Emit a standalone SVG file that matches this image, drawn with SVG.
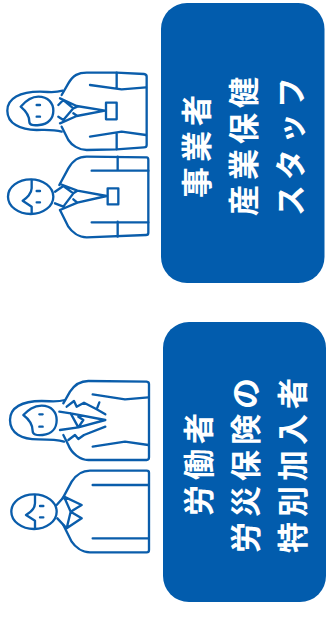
<svg xmlns="http://www.w3.org/2000/svg" width="327" height="618" viewBox="0 0 327 618">
<style>
.i{fill:none;stroke:#0a5dab;stroke-width:7;stroke-linecap:round;stroke-linejoin:round}
.b{fill:#025cad}
.t{fill:#fff;font-family:"Noto Sans CJK JP","Noto Sans CJK SC",sans-serif;font-weight:700;font-size:31px;letter-spacing:5px}
</style>
<g id="staff-icons" class="i" transform="translate(0,60) scale(.33333)">
<g id="woman-staff">
<path d="M188,92C160,100 150,95 120,95C60,95 22,115 22,152C22,190 60,210 110,210C140,210 160,208 185,215"/>
<path d="M62,140C75,125 90,110 115,110C145,110 160,130 160,152C160,175 145,192 118,195C100,197 88,195 88,185C88,170 80,155 62,140Z"/>
<path d="M110,135H120M110,170H120"/>
<path d="M185,105L205,70C220,45 235,38 260,38L350,38L432,42Q440,43 440,50L440,255Q440,262 432,262L350,268L260,270C235,270 215,255 205,240L185,200"/>
<path d="M350,38V85M350,222V268M270,75L365,88L438,82M270,230L365,215L438,225"/>
<path d="M180,115L230,138L315,152L230,168L180,190M175,135L190,120L220,145L190,180L175,170M220,145L232,140M220,160L232,168"/>
<rect x="318" y="128" width="32" height="50"/>
</g>
<g id="man-staff">
<ellipse cx="92" cy="410" rx="68" ry="52"/>
<path d="M95,360V385C95,400 80,415 68,422L95,440V460"/>
<path d="M110,393H120M110,427H120"/>
<path d="M178,375L205,325C220,300 235,290 260,290L440,292Q445,292 445,300L445,518Q445,525 438,525L260,532C235,532 215,515 205,500L180,450"/>
<path d="M353,290V330M353,485V530M275,332H445M275,487H445"/>
<path d="M180,372L232,392L320,408L232,428L180,450M165,395L190,378L220,400L190,440L165,430M220,400L232,392M220,418L232,428"/>
<rect x="323" y="385" width="32" height="48"/>
</g>
</g>
<g id="worker-icons" class="i" transform="translate(0,370) scale(.33333)">
<g id="woman-worker">
<path d="M195,90C170,97 155,93 125,93C65,93 30,113 30,150C30,190 65,208 115,208C145,208 170,208 192,215"/>
<path d="M70,135C85,120 100,107 125,107C155,107 170,127 170,150C170,175 155,192 128,195C108,197 98,193 98,183C98,165 90,150 70,135Z"/>
<path d="M118,133H128M118,170H128"/>
<path d="M190,100L210,65C225,42 245,33 265,33L440,35Q447,36 447,42L447,262Q447,270 440,270L265,270C240,270 215,250 205,225L190,195"/>
<path d="M278,73L375,88L445,82M278,230L375,215L445,225"/>
<path d="M200,110L222,93L230,110L252,98L290,118L298,97M290,118L316,133M212,130L316,150L235,172L180,180M235,172L212,130M178,125L212,130M205,210L225,195L235,207L252,195L316,170M235,140L250,150L235,172"/>
</g>
<g id="man-worker">
<ellipse cx="102" cy="425" rx="68" ry="52"/>
<path d="M105,375V400C105,415 90,428 78,435L105,452V475"/>
<path d="M120,408H130M120,442H130"/>
<path d="M188,385L215,335C230,312 245,302 270,302L440,302Q447,302 447,308L447,540Q447,547 440,547L270,547C245,547 225,530 215,515L190,465"/>
<path d="M278,345H445M278,505H445"/>
<path d="M170,405L192,380L245,405L212,425L245,445L200,475L172,445M192,380L212,425L200,475"/>
</g>
</g>
<g id="box-employer">
<rect class="b" x="161" y="3" width="163.500" height="280" rx="26"/>
<text class="t" transform="translate(208,198) rotate(-90)">事業者</text>
<text class="t" transform="translate(255,216) rotate(-90)">産業保健</text>
<text class="t" transform="translate(302,216) rotate(-90)">スタッフ</text>
</g>
<g id="box-worker">
<rect class="b" x="163" y="322" width="163" height="280" rx="26"/>
<text class="t" transform="translate(210,516) rotate(-90)">労働者</text>
<text class="t" transform="translate(257,553) rotate(-90)">労災保険の</text>
<text class="t" transform="translate(304,553) rotate(-90)">特別加入者</text>
</g>
</svg>
